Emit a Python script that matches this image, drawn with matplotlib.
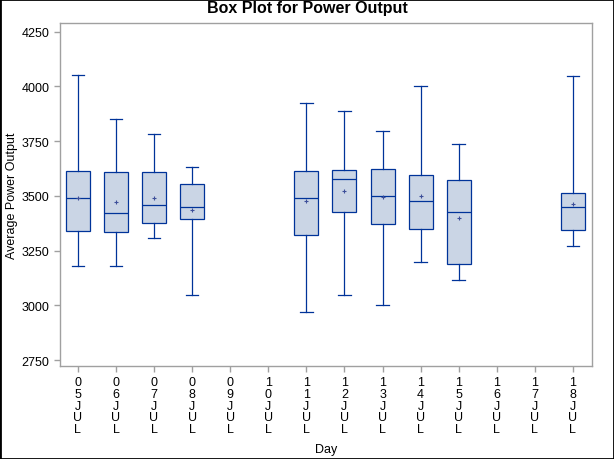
import numpy as np
import matplotlib.pyplot as plt
from matplotlib.patches import Rectangle

plt.rcParams['font.family'] = ['Liberation Sans', 'DejaVu Sans']

# Day labels (05JUL .. 18JUL); days without data have None
days = ["05JUL", "06JUL", "07JUL", "08JUL", "09JUL", "10JUL", "11JUL",
        "12JUL", "13JUL", "14JUL", "15JUL", "16JUL", "17JUL", "18JUL"]
whislo = [3180, 3180, 3308, 3047, None, None, 2969, 3047, 3001, 3198, 3116, None, None, 3270]
q1 = [3340, 3336, 3377, 3395, None, None, 3322, 3428, 3373, 3350, 3189, None, None, 3343]
med = [3492, 3423, 3460, 3450, None, None, 3492, 3579, 3501, 3478, 3428, None, None, 3448]
q3 = [3614, 3611, 3611, 3556, None, None, 3616, 3620, 3625, 3597, 3574, None, None, 3512]
whishi = [4052, 3852, 3785, 3634, None, None, 3923, 3886, 3795, 4000, 3735, None, None, 4046]
means = [3490, 3472, 3492, 3435, None, None, 3476, 3522, 3495, 3499, 3400, None, None, 3461]

edge = "#003399"
fill = "#CAD5E5"
grey = "#A0A0A0"
lw = 0.9

stats, positions = [], []
for i in range(len(days)):
    if med[i] is None:
        continue
    stats.append(dict(whislo=whislo[i], q1=q1[i], med=med[i], q3=q3[i],
                      whishi=whishi[i], mean=means[i], fliers=[]))
    positions.append(i)

fig = plt.figure(figsize=(6.14, 4.60), dpi=100)
ax = fig.add_axes([0.0977, 0.2022, 0.8664, 0.7456])

ax.bxp(stats, positions=positions, widths=0.63, patch_artist=True,
       showmeans=True, showfliers=False,
       boxprops=dict(facecolor=fill, edgecolor=edge, linewidth=lw),
       medianprops=dict(color=edge, linewidth=lw),
       whiskerprops=dict(color=edge, linewidth=lw),
       capprops=dict(color=edge, linewidth=lw),
       capwidths=0.33,
       meanprops=dict(marker="+", markeredgecolor="#3D4F9A", markersize=3.5,
                      markeredgewidth=0.8))

ax.set_xlim(-0.47, 13.5)
ax.set_ylim(2723, 4290)
ax.set_yticks([2750, 3000, 3250, 3500, 3750, 4000, 4250])
ax.set_xticks(range(len(days)))
ax.set_xticklabels(["\n".join(d) for d in days], fontsize=9, linespacing=0.95)
ax.tick_params(axis="both", colors=grey, labelcolor="black", labelsize=9,
               length=4, width=1)
for s in ax.spines.values():
    s.set_color(grey)
    s.set_linewidth(1)

fig.text(0.5, 1 - 9 / 460, "Box Plot for Power Output", fontsize=11.5,
         fontweight="bold", ha="center", va="center")
ax.set_ylabel("Average Power Output", fontsize=9)
ax.yaxis.set_label_coords(-0.079, 0.5)
ax.set_xlabel("Day", fontsize=9, labelpad=6)

fig.patches.append(Rectangle((0, 0), 1, 1, transform=fig.transFigure,
                             fill=False, edgecolor="black", linewidth=2))

fig.savefig("out.png", dpi=100)
